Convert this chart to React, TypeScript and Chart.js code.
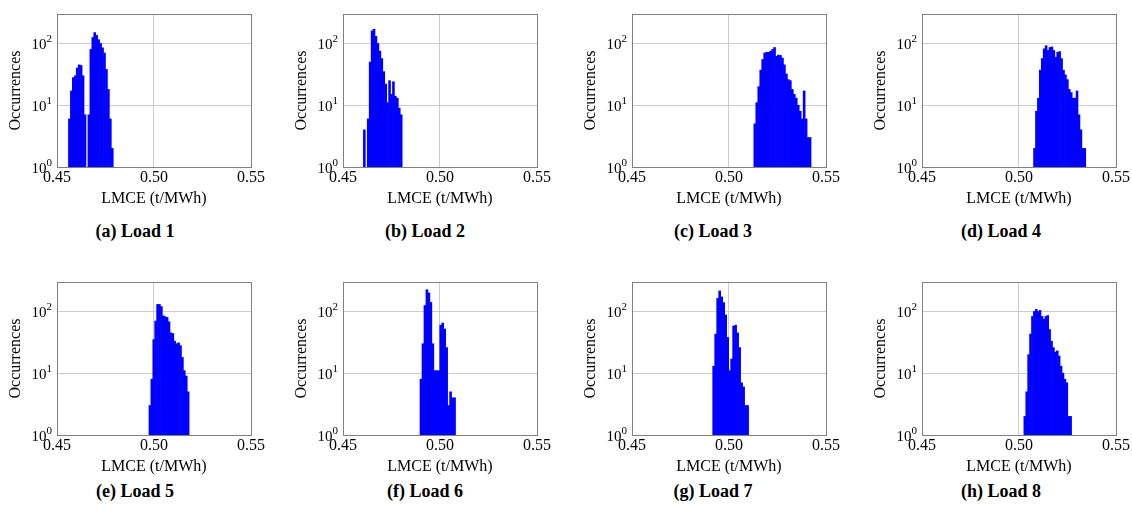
import React, { useEffect, useRef } from 'react';
import { Chart, registerables } from 'chart.js';

Chart.register(...registerables);

// ---------- data ----------
const panelCaptions = [
  '(a) Load 1', '(b) Load 2', '(c) Load 3', '(d) Load 4',
  '(e) Load 5', '(f) Load 6', '(g) Load 7', '(h) Load 8',
];

// first / last histogram bin edge of each load (t/MWh)
const binStart = [0.4559, 0.4605, 0.5128, 0.5075, 0.4974, 0.4897, 0.4916, 0.5025];
const binEnd = [0.4790, 0.4805, 0.5423, 0.5344, 0.5181, 0.5080, 0.5101, 0.5271];

// occurrences per bin (null = empty bin)
const load1 = [6, 17, 28, 30, 40, 45, 44, 30, 7, null, 7, 80, 125, 150, 135, 115, 100, 85, 70, 38, 18, 6, 2];
const load2 = [4, null, 6, 50, 160, 170, 130, 100, 75, 57, 35, 22, 11, 25, 15, 24, 14, 13, 9, 7];
const load3 = [5, 11, 20, 37, 55, 70, 72, 72, 75, 80, 86, 62, 65, 64, 58, 45, 32, 26, 25, 18, 15, 13, 10, 8, 6, 17, 6, 3, 3];
const load4 = [2, 8, 13, 37, 57, 82, 92, 77, 86, 88, 77, 60, 72, 74, 57, 37, 31, 26, 18, 16, 13, 13, 17, 7, 4, 2, 2];
const load5 = [3, 8, 35, 70, 130, 130, 120, 85, 82, 80, 68, 45, 44, 33, 30, 31, 28, 18, 11, 9, 5];
const load6 = [8, 30, 125, 225, 200, 140, 30, 11, 11, 11, 60, 65, 52, 26, 3, 5, 4, 4];
const load7 = [13, 43, 163, 215, 172, 139, 88, 38, 11, 17, 58, 60, 45, 26, 7, 6, 3, 3];
const load8 = [2, 5, 20, 43, 83, 100, 108, 100, 104, 83, 75, 83, 86, 51, 33, 26, 22, 23, 19, 13, 10, 8, 7, 2, 2];

const loadCounts = [load1, load2, load3, load4, load5, load6, load7, load8];

const xMin = 0.45;
const xMax = 0.55;
const xTickValues = [0.45, 0.5, 0.55];
const yMin = 1;
const yMax = 300;
const yTickValues = [1, 10, 100];
const yTickBase = '10';
const yTickExponents = ['0', '1', '2'];
const xTitle = 'LMCE (t/MWh)';
const yTitle = 'Occurrences';

// ---------- layout / style ----------
const colPlotLeft = [57, 343, 632, 922];
const rowPlotTop = [9, 277];
const captionCx = [135, 425, 713, 1001];
const captionCy = [231, 491];
const Y_AXIS_W = 57;
const PLOT_W = 194;
const RIGHT_PAD = 16;
const TOP_PAD = 9;
const PLOT_H = 158;
const X_AXIS_H = 45;
const CANVAS_W = Y_AXIS_W + PLOT_W + RIGHT_PAD;
const CANVAS_H = TOP_PAD + PLOT_H + X_AXIS_H;

const SERIF = "'Liberation Serif', 'Times New Roman', serif";

const framePlugin = {
  id: 'frameBox',
  afterDraw(chart: any) {
    const { ctx, chartArea: a } = chart;
    ctx.save();
    ctx.strokeStyle = '#808080';
    ctx.lineWidth = 1;
    ctx.strokeRect(Math.round(a.left) + 0.5, Math.round(a.top) + 0.5,
      Math.round(a.right - a.left), Math.round(a.bottom - a.top));
    ctx.restore();
  },
};

// power-of-ten tick labels with a raised exponent, like the original
const logLabelPlugin = {
  id: 'logLabels',
  afterDraw(chart: any) {
    const { ctx } = chart;
    const y = chart.scales.y;
    const right = chart.chartArea.left - 5;
    ctx.save();
    ctx.fillStyle = '#000';
    ctx.textBaseline = 'alphabetic';
    ctx.textAlign = 'left';
    yTickValues.forEach((v, i) => {
      const py = y.getPixelForValue(v);
      ctx.font = `11px ${SERIF}`;
      const ew = ctx.measureText(yTickExponents[i]).width;
      ctx.font = `15px ${SERIF}`;
      const bw = ctx.measureText(yTickBase).width;
      const x0 = right - ew - bw;
      ctx.fillText(yTickBase, x0, py + 6);
      ctx.font = `11px ${SERIF}`;
      ctx.fillText(yTickExponents[i], x0 + bw, py - 1);
    });
    ctx.restore();
  },
};

function Panel({ index }: { index: number }) {
  const ref = useRef<HTMLCanvasElement>(null);
  useEffect(() => {
    const counts = loadCounts[index];
    const w = (binEnd[index] - binStart[index]) / counts.length;
    const points = counts.map((c, i) => ({ x: binStart[index] + (i + 0.5) * w, y: c }));
    const chart = new Chart(ref.current!, {
      type: 'bar',
      data: {
        datasets: [{
          data: points as any,
          backgroundColor: '#0000ff',
          borderWidth: 0,
          barPercentage: 1,
          categoryPercentage: 1,
        }],
      },
      options: {
        animation: false,
        responsive: false,
        devicePixelRatio: 1,
        layout: { padding: { top: TOP_PAD, right: RIGHT_PAD, left: 0, bottom: 0 } },
        plugins: { legend: { display: false }, tooltip: { enabled: false } },
        scales: {
          x: {
            type: 'linear',
            min: xMin,
            max: xMax,
            offset: false,
            z: 1,
            grid: { color: '#cccccc', drawTicks: false, offset: false },
            border: { display: false },
            afterBuildTicks: (s: any) => { s.ticks = xTickValues.map((v) => ({ value: v })); },
            afterFit: (s: any) => { s.height = X_AXIS_H; },
            ticks: {
              maxRotation: 0,
              padding: 1,
              color: '#000',
              font: { family: SERIF, size: 16 },
              callback: (v: any) => Number(v).toFixed(2),
            },
            title: {
              display: true,
              text: xTitle,
              color: '#000',
              font: { family: SERIF, size: 16 },
              padding: { top: 0, bottom: 4 },
            },
          },
          y: {
            type: 'logarithmic',
            min: yMin,
            max: yMax,
            z: 1,
            grid: { color: '#cccccc', drawTicks: false },
            border: { display: false },
            afterBuildTicks: (s: any) => { s.ticks = yTickValues.map((v) => ({ value: v, major: true })); },
            afterFit: (s: any) => { s.width = Y_AXIS_W; },
            ticks: {
              padding: 5,
              color: '#000',
              font: { family: SERIF, size: 15 },
              callback: () => '',
            },
            title: {
              display: true,
              text: yTitle,
              color: '#000',
              font: { family: SERIF, size: 16 },
              padding: { top: 6, bottom: 0 },
            },
          },
        },
      },
      plugins: [framePlugin, logLabelPlugin],
    });
    return () => chart.destroy();
  }, [index]);

  const col = index % 4;
  const row = Math.floor(index / 4);
  return (
    <>
      <canvas
        ref={ref}
        width={CANVAS_W}
        height={CANVAS_H}
        style={{
          position: 'absolute',
          left: colPlotLeft[col] - Y_AXIS_W,
          top: rowPlotTop[row] - TOP_PAD,
          width: CANVAS_W,
          height: CANVAS_H,
        }}
      />
      <div
        style={{
          position: 'absolute',
          left: captionCx[col],
          top: captionCy[row],
          transform: 'translate(-50%, -50%)',
          fontFamily: SERIF,
          fontWeight: 'bold',
          fontSize: 18,
          lineHeight: 1,
          whiteSpace: 'nowrap',
          color: '#000',
        }}
      >
        {panelCaptions[index]}
      </div>
    </>
  );
}

export default function App() {
  return (
    <div
      style={{
        position: 'absolute',
        left: 0,
        top: 0,
        width: 1132,
        height: 512,
        background: '#fff',
        overflow: 'hidden',
      }}
    >
      {panelCaptions.map((_, i) => (
        <Panel key={i} index={i} />
      ))}
    </div>
  );
}
